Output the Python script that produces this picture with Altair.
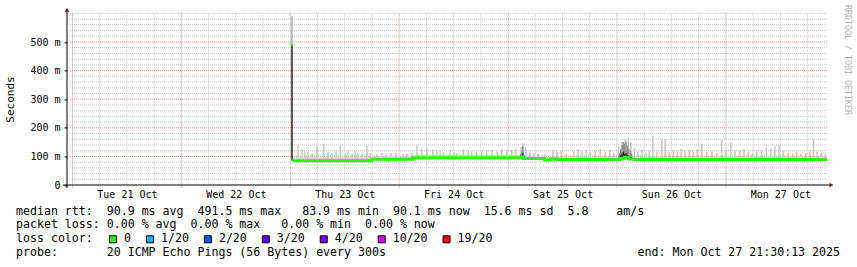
import altair as alt
import pandas as pd
import numpy as np

# ---------------- data ----------------
BASE = pd.Timestamp("2025-10-23T00:00:00Z")      # Thu 23 Oct 00:00
DOMAIN_HOURS = [-49.21, 118.5]                   # visible time window, hours from BASE

day_labels = ["2025-10-21", "2025-10-22", "2025-10-23", "2025-10-24",
              "2025-10-25", "2025-10-26", "2025-10-27"]

# median rtt (step breakpoints): hours after BASE, ms
med_hours = [0.45, 18.0, 27.0, 51.0, 51.4, 56.0, 57.3, 58.5, 72.6, 73.6, 74.6, 75.6, 118.3]
med_ms = [85, 90, 95, 99, 93, 87, 91, 89.5, 93, 97, 91, 89.5, 89.5]
haze_ms = [96, 101, 105, 108, 103, 97, 100, 99, 103, 107, 100, 99, 99]

# first sample (spike)
first_hour = 0.37
first_median = 491.5
first_low = 85
first_top = 590

# individual smoke spikes: hours after BASE, max ping (ms)
spike_hours = [1.7, 2.6, 3.2, 3.9, 4.8, 5.9, 7.4, 8.3, 9.2, 10.1, 11.0, 12.1, 12.7, 13.6,
               14.3, 14.9, 15.8, 16.9, 17.6, 19.1, 20.2, 21.1, 22.2, 23.3, 24.8, 25.7,
               26.8, 27.9, 29.0, 30.1, 31.4, 32.3, 33.0, 33.7, 35.2, 36.1, 36.7, 38.1,
               39.2, 40.0, 41.1, 42.2, 43.3, 44.5, 45.6, 46.6, 47.7, 48.8, 49.7, 50.9,
               51.3, 51.9, 52.8, 53.7, 54.6, 56.1, 57.9, 58.8, 59.7, 60.8, 62.5, 63.4,
               64.3, 65.2, 66.1, 67.2, 68.3, 69.4, 70.4, 71.3, 72.4, 73.1, 73.8, 74.5,
               75.1, 75.8, 76.6, 77.5, 78.4, 79.1, 79.9, 80.8, 81.9, 82.6, 83.5, 84.4,
               85.3, 86.1, 87.0, 87.9, 88.8, 89.7, 90.7, 91.8, 92.9, 94.0, 95.1, 96.0,
               97.1, 98.0, 99.1, 100.0, 100.9, 101.8, 102.8, 103.9, 104.9, 105.9, 106.8,
               107.7, 108.6, 109.7, 110.7, 111.6, 112.5, 113.6, 114.5, 115.3, 116.1,
               117.0, 117.9]
spike_ms = [138, 125, 120, 118, 112, 134, 143, 115, 112, 118, 140, 112, 120, 110,
            118, 112, 108, 136, 112, 108, 112, 110, 112, 114, 108, 110,
            112, 140, 125, 130, 125, 118, 120, 116, 120, 115, 112, 125,
            120, 118, 115, 118, 120, 122, 118, 125, 120, 122, 128, 135,
            147, 130, 118, 112, 110, 108, 122, 118, 120, 108, 118, 125,
            118, 122, 115, 120, 125, 118, 122, 112, 135, 150, 158, 164,
            150, 130, 118, 122, 115, 120, 172, 118, 158, 160, 115, 120,
            118, 125, 118, 122, 118, 125, 143, 115, 118, 112, 157, 120,
            150, 118, 120, 125, 115, 112, 118, 120, 130, 128, 135,
            140, 118, 112, 110, 115, 108, 112, 118, 160, 115,
            112, 110]

# dense (dark) smoke clusters
dark_hours = [50.8, 51.0, 51.2, 51.4, 72.5, 72.8, 73.1, 73.4, 73.7, 74.0, 74.3, 74.6, 74.9, 75.2]
dark_mid = [108, 118, 135, 115, 112, 125, 140, 150, 145, 152, 138, 128, 120, 110]
dark_low = [100, 104, 110, 102, 99, 104, 110, 116, 108, 112, 106, 102, 98, 96]

# y axis
y_major = [100, 200, 300, 400, 500]
y_minor = [20, 40, 60, 80, 120, 140, 160, 180, 220, 240, 260, 280, 320, 340, 360, 380,
           420, 440, 460, 480, 520, 540, 560, 580, 600]
y_labels = [0, 100, 200, 300, 400, 500]

# legend
legend_lines = [
    "median rtt:  90.9 ms avg  491.5 ms max   83.9 ms min  90.1 ms now  15.6 ms sd  5.8    am/s",
    "packet loss: 0.00 % avg  0.00 % max   0.00 % min  0.00 % now",
    "loss color:",
    "probe:       20 ICMP Echo Pings (56 Bytes) every 300s",
]
loss_labels = ["0", "1/20", "2/20", "3/20", "4/20", "10/20", "19/20"]
loss_colors = ["#26ff00", "#00b8ff", "#0059ff", "#5e00ff", "#7e00ff", "#dd00ff", "#ff0000"]
end_text = "end: Mon Oct 27 21:30:13 2025"
watermark = "RRDTOOL / TOBI OETIKER"
y_title = "Seconds"

# ---------------- layout ----------------
W, H = 761, 171.6
LEFT, TOP = 67, 13.4
FONT = "DejaVu Sans Mono"
GREEN = loss_colors[0]


def tms(h):
    return int((BASE + pd.Timedelta(hours=float(h))).value // 10**6)


def nb(s):
    return s.replace(" ", "\u00a0")


xdom = [tms(DOMAIN_HOURS[0]), tms(DOMAIN_HOURS[1])]
xscale = alt.Scale(type="utc", domain=xdom)
yscale = alt.Scale(domain=[0, 600], nice=False, zero=True)

midnights = [pd.Timestamp(d + "T00:00:00Z") for d in day_labels]
major_t = [int(m.value // 10**6) for m in midnights]
minor_t = []
for m in [midnights[0] - pd.Timedelta(days=1)] + midnights:
    for off in (6, 12, 18):
        v = int((m + pd.Timedelta(hours=off)).value // 10**6)
        if xdom[0] < v < xdom[1]:
            minor_t.append(v)
noon_t = [int((m + pd.Timedelta(hours=12)).value // 10**6) for m in midnights]

med_df = pd.DataFrame({"t": [tms(h) for h in med_hours], "ms": med_ms, "haze": haze_ms})


def median_at(h):
    i = int(np.searchsorted(med_hours, h, side="right")) - 1
    return med_ms[max(i, 0)]


spk_df = pd.DataFrame({"t": [tms(h) for h in spike_hours], "top": spike_ms,
                       "med": [median_at(h) for h in spike_hours]})
dark_df = pd.DataFrame({"t": [tms(h) for h in dark_hours], "mid": dark_mid, "low": dark_low,
                        "med": [median_at(h) for h in dark_hours]})
first_df = pd.DataFrame({"t": [tms(first_hour)], "low": [first_low],
                         "med": [first_median], "top": [first_top]})
dummy = pd.DataFrame({"a": [0]})

X = lambda: alt.X("t:T", scale=xscale, axis=None)

# grid
MINOR_C = "#c4c4c4"
MAJOR_C = "#e08c8c"
vminor = alt.Chart(pd.DataFrame({"t": minor_t})).mark_rule(
    color=MINOR_C, strokeDash=[1, 1], strokeWidth=1).encode(
    x=X(), y=alt.value(0), y2=alt.value(H))
vmajor = alt.Chart(pd.DataFrame({"t": major_t})).mark_rule(
    color=MAJOR_C, strokeDash=[1, 1], strokeWidth=1).encode(
    x=X(), y=alt.value(0), y2=alt.value(H + 3))
hminor = alt.Chart(pd.DataFrame({"v": y_minor})).mark_rule(
    color=MINOR_C, strokeDash=[1, 1], strokeWidth=1).encode(
    y=alt.Y("v:Q", scale=yscale, axis=None), x=alt.value(3), x2=alt.value(W))
hmajor = alt.Chart(pd.DataFrame({"v": y_major})).mark_rule(
    color=MAJOR_C, strokeDash=[1, 1], strokeWidth=1).encode(
    y=alt.Y("v:Q", scale=yscale, axis=None), x=alt.value(3), x2=alt.value(W))

# smoke
haze = alt.Chart(med_df).mark_area(interpolate="step-after", color="#dadada").encode(
    x=X(), y=alt.Y("haze:Q", scale=yscale, axis=None), y2="ms:Q")
spikes = alt.Chart(spk_df).mark_rule(color="#c2c2c2", strokeWidth=1.4).encode(
    x=X(), y=alt.Y("med:Q", scale=yscale, axis=None), y2="top:Q")
dark1 = alt.Chart(dark_df).mark_rule(color="#8a8a8a", strokeWidth=1.3).encode(
    x=X(), y=alt.Y("med:Q", scale=yscale, axis=None), y2="mid:Q")
dark2 = alt.Chart(dark_df).mark_rule(color="#222222", strokeWidth=1.3).encode(
    x=X(), y=alt.Y("med:Q", scale=yscale, axis=None), y2="low:Q")
first_gray = alt.Chart(first_df).mark_rule(color="#a0a0a0", strokeWidth=1.3).encode(
    x=X(), y=alt.Y("med:Q", scale=yscale, axis=None), y2="top:Q")
first_black = alt.Chart(first_df).mark_rule(color="#000000", strokeWidth=1.3).encode(
    x=X(), y=alt.Y("low:Q", scale=yscale, axis=None), y2="med:Q")
first_pt = alt.Chart(first_df).mark_square(color=GREEN, size=5, opacity=1).encode(
    x=X(), y=alt.Y("med:Q", scale=yscale, axis=None))

# axes layer (labels only, no marks visible)
axes_layer = alt.Chart(med_df).mark_line(opacity=0).encode(
    x=alt.X("t:T", scale=xscale, axis=alt.Axis(
        values=noon_t, format="%a %d %b", title=None, grid=False, domain=False,
        ticks=False, tickSize=0, labelFont=FONT, labelFontSize=10, labelColor="#000",
        labelBaseline="middle", labelPadding=9, labelAngle=0, labelOverlap=False,
        labelFlush=False)),
    y=alt.Y("ms:Q", scale=yscale, axis=alt.Axis(
        values=y_labels, title=None, grid=False, domain=False, ticks=True, tickSize=3,
        tickColor="#000", labelFont=FONT, labelFontSize=10, labelColor="#000",
        labelPadding=4, labelBaseline="middle", labelFlush=False, labelOverlap=False,
        labelExpr="datum.value == 0 ? '0\u00a0\u00a0' : datum.value + '\u00a0m'")),
)

median = alt.Chart(med_df).mark_line(interpolate="step-after", color=GREEN, strokeWidth=3).encode(
    x=X(), y=alt.Y("ms:Q", scale=yscale, axis=None))

# axis lines and arrows
ARROW = "#7f1f1f"
yaxis_line = alt.Chart(dummy).mark_rule(color="#000", strokeWidth=1).encode(
    x=alt.value(0), y=alt.value(-3), y2=alt.value(H + 3))
xaxis_line = alt.Chart(dummy).mark_rule(color="#000", strokeWidth=1).encode(
    y=alt.value(H), x=alt.value(-4), x2=alt.value(W + 2))
arrow_up = alt.Chart(dummy).mark_point(shape="triangle-up", filled=True, size=22,
                                       color=ARROW, opacity=1).encode(
    x=alt.value(0), y=alt.value(-3.5))
arrow_right = alt.Chart(dummy).mark_point(shape="triangle-right", filled=True, size=22,
                                          color=ARROW, opacity=1).encode(
    x=alt.value(W + 3.5), y=alt.value(H))

# texts
texts = []
texts.append(alt.Chart(dummy).mark_text(text=y_title, font=FONT, fontSize=11, angle=270,
                                        align="center", baseline="middle", color="#000").encode(
    x=alt.value(11 - LEFT), y=alt.value(99.5 - TOP)))
texts.append(alt.Chart(dummy).mark_text(text=watermark, font=FONT, fontSize=8.3, angle=90,
                                        align="left", baseline="middle", color="#b4b4b4").encode(
    x=alt.value(847 - LEFT), y=alt.value(5 - TOP)))
line_y = [211.7, 225.3, 239.3, 252.7]
CH = 6.98
for txt, yy in zip(legend_lines, line_y):
    texts.append(alt.Chart(dummy).mark_text(text=nb(txt), font=FONT, fontSize=11.6,
                                            align="left", baseline="middle", color="#000").encode(
        x=alt.value(16 - LEFT), y=alt.value(yy - TOP)))
texts.append(alt.Chart(dummy).mark_text(text=nb(end_text), font=FONT, fontSize=11.6,
                                        align="right", baseline="middle", color="#000").encode(
    x=alt.value(840 - LEFT), y=alt.value(line_y[3] - TOP)))

cursor = 109
for lab, col in zip(loss_labels, loss_colors):
    texts.append(alt.Chart(dummy).mark_square(size=49, filled=True, fill=col, stroke="#000",
                                              strokeWidth=1, opacity=1).encode(
        x=alt.value(cursor + 4 - LEFT), y=alt.value(line_y[2] - TOP)))
    lx = cursor + 15
    texts.append(alt.Chart(dummy).mark_text(text=lab, font=FONT, fontSize=11.6,
                                            align="left", baseline="middle", color="#000").encode(
        x=alt.value(lx - LEFT), y=alt.value(line_y[2] - TOP)))
    cursor = lx + len(lab) * CH + 15

chart = alt.layer(
    axes_layer,
    vminor, hminor, vmajor, hmajor,
    haze, spikes, dark1, dark2, first_gray, first_black,
    median, first_pt,
    yaxis_line, xaxis_line, arrow_up, arrow_right,
    *texts,
).resolve_axis(x="independent", y="independent").properties(
    width=W, height=H,
    autosize=alt.AutoSizeParams(type="none"),
    padding={"left": LEFT, "top": TOP, "right": 857 - LEFT - W, "bottom": 267 - TOP - H},
    background="white",
).configure_view(stroke=None)

chart.save("out.html", embed_options={"renderer": "svg", "actions": False})
